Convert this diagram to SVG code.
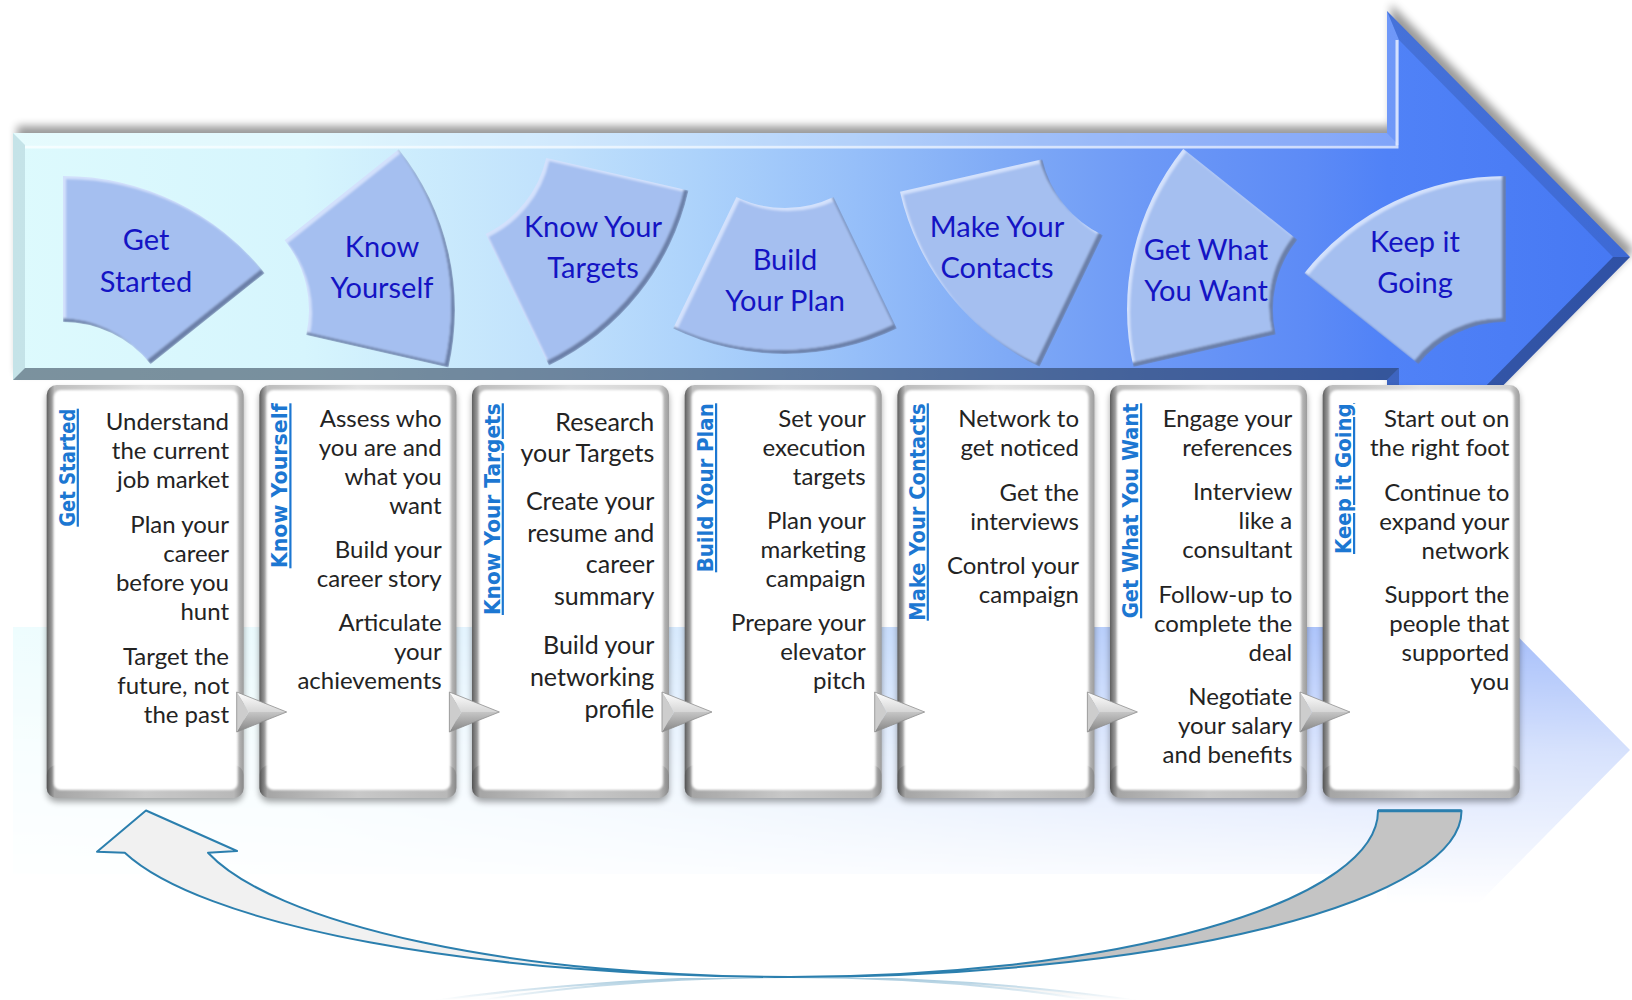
<svg xmlns="http://www.w3.org/2000/svg" xmlns:xlink="http://www.w3.org/1999/xlink" width="1632" height="1000" viewBox="0 0 1632 1000">
<style>
.segt{font-family:Lato,"Liberation Sans",sans-serif;font-size:29px;fill:#1414c4;text-anchor:middle}
.bt{font-family:Lato,"Liberation Sans",sans-serif;font-size:24px;fill:#232323;text-anchor:end}
.bt3{font-size:25px}
.hdr{font-family:"DejaVu Sans","Liberation Sans",sans-serif;font-weight:700;font-size:22px;fill:#1c77d2;text-decoration:underline}
.frame{fill:url(#frameGrad)}
.inner{fill:#fff;filter:url(#soft)}
.cshadow{fill:#000;opacity:.35;filter:url(#blur3)}
.dark{fill:#6b7fa8}
.light{fill:#d3e1fc}
.main{fill:#a5bff0}
.curve{stroke:#2b7fae;stroke-width:2;stroke-linejoin:round}
</style>
<defs>
<linearGradient id="bodyGrad" gradientUnits="userSpaceOnUse" x1="13" y1="0" x2="1630" y2="0">
<stop offset="0" stop-color="#ddfafd"/>
<stop offset=".18" stop-color="#d6f5fd"/>
<stop offset=".34" stop-color="#bfe0fc"/>
<stop offset=".425" stop-color="#acd2fb"/>
<stop offset=".52" stop-color="#96bff9"/>
<stop offset=".61" stop-color="#80abf6"/>
<stop offset=".7" stop-color="#6d99f6"/>
<stop offset=".8" stop-color="#5d8bf6"/>
<stop offset=".85" stop-color="#5082f7"/>
<stop offset="1" stop-color="#4678f3"/>
</linearGradient>
<linearGradient id="frameGrad" x1="0" y1="0" x2="1" y2="0">
<stop offset="0" stop-color="#5e5e5e"/>
<stop offset=".04" stop-color="#bdbdbd"/>
<stop offset=".5" stop-color="#e4e4e4"/>
<stop offset=".95" stop-color="#d2d2d2"/>
<stop offset="1" stop-color="#9c9c9c"/>
</linearGradient>
<linearGradient id="triTop" x1="0" y1="0" x2="0" y2="1">
<stop offset="0" stop-color="#ffffff"/>
<stop offset="1" stop-color="#d6d6d6"/>
</linearGradient>
<linearGradient id="triBot" x1="0" y1="0" x2="0" y2="1">
<stop offset="0" stop-color="#c6c6c6"/>
<stop offset="1" stop-color="#858585"/>
</linearGradient>
<linearGradient id="reflFade" x1="0" y1="0" x2="0" y2="1">
<stop offset="0" stop-color="#fff" stop-opacity=".65"/>
<stop offset=".31" stop-color="#fff" stop-opacity=".5"/>
<stop offset=".62" stop-color="#fff" stop-opacity=".22"/>
<stop offset="1" stop-color="#fff" stop-opacity="0"/>
</linearGradient>
<linearGradient id="curveFade" x1="0" y1="0" x2="0" y2="1">
<stop offset="0" stop-color="#fff" stop-opacity=".7"/>
<stop offset="1" stop-color="#fff" stop-opacity="0"/>
</linearGradient>
<mask id="reflMask" maskUnits="userSpaceOnUse" x="0" y="0" width="1632" height="1000">
<rect x="0" y="504" width="1632" height="400" fill="url(#reflFade)"/>
</mask>
<mask id="curveMask" maskUnits="userSpaceOnUse" x="0" y="0" width="1632" height="1000">
<rect x="0" y="978" width="1632" height="22" fill="url(#curveFade)"/>
</mask>
<filter id="blur4" x="-10%" y="-20%" width="120%" height="140%"><feGaussianBlur stdDeviation="4"/></filter>
<filter id="blur3" x="-10%" y="-10%" width="120%" height="120%"><feGaussianBlur stdDeviation="3"/></filter>
<filter id="soft" x="-5%" y="-5%" width="110%" height="110%"><feGaussianBlur stdDeviation="1.2"/></filter>
<polygon id="arrowShape" points="13,133 1387,133 1387,11 1630,257 1387,503 1387,380 13,380"/>
<path id="s1" d="M63,176 A258,258 0 0 1 264.71,273.14 L150.56,364.17 A112,112 0 0 0 63,322 Z"/>
<path id="s2" d="M398.71,149.14 A258,258 0 0 1 448.53,367.41 L306.19,334.92 A112,112 0 0 0 284.56,240.17 Z"/>
<path id="s3" d="M688.53,190.41 A258,258 0 0 1 548.94,365.45 L485.59,233.91 A112,112 0 0 0 546.19,157.92 Z"/>
<path id="s4" d="M896.94,328.45 A258,258 0 0 1 673.06,328.45 L736.41,196.91 A112,112 0 0 0 833.59,196.91 Z"/>
<path id="s5" d="M1039.56,366.85 A258,258 0 0 1 899.97,191.81 L1042.31,159.32 A112,112 0 0 0 1102.91,235.31 Z"/>
<path id="s6" d="M1133.47,366.91 A258,258 0 0 1 1183.29,148.64 L1297.44,239.67 A112,112 0 0 0 1275.81,334.42 Z"/>
<path id="s7" d="M1304.29,273.14 A258,258 0 0 1 1506,176 L1506,322 A112,112 0 0 0 1418.44,364.17 Z"/>
<clipPath id="c1"><use href="#s1"/></clipPath><clipPath id="c1b"><use href="#s1" transform="translate(3,3)"/></clipPath>
<clipPath id="c2"><use href="#s2"/></clipPath><clipPath id="c2b"><use href="#s2" transform="translate(3,3)"/></clipPath>
<clipPath id="c3"><use href="#s3"/></clipPath><clipPath id="c3b"><use href="#s3" transform="translate(3,3)"/></clipPath>
<clipPath id="c4"><use href="#s4"/></clipPath><clipPath id="c4b"><use href="#s4" transform="translate(3,3)"/></clipPath>
<clipPath id="c5"><use href="#s5"/></clipPath><clipPath id="c5b"><use href="#s5" transform="translate(3,3)"/></clipPath>
<clipPath id="c6"><use href="#s6"/></clipPath><clipPath id="c6b"><use href="#s6" transform="translate(3,3)"/></clipPath>
<clipPath id="c7"><use href="#s7"/></clipPath><clipPath id="c7b"><use href="#s7" transform="translate(3,3)"/></clipPath>
<g id="tri">
<polygon points="0,-20 50,0 12,0" fill="url(#triTop)"/>
<polygon points="0,20 50,0 12,0" fill="url(#triBot)"/>
<polygon points="0,-20 12,0 0,20" fill="#cdcdcd"/>
<polygon points="0,-20 50,0 0,20" fill="none" stroke="#8f8f8f" stroke-width=".8"/>
</g>
<g id="card">
<rect class="cshadow" x="0" y="4" width="197" height="413" rx="10"/>
<rect class="frame" x="0" y="0" width="197" height="413" rx="10"/>
<rect x="0" y="380" width="197" height="33" rx="10" fill="#000" opacity=".12"/>
<rect class="inner" x="7" y="5" width="184" height="400" rx="7"/>
</g>
</defs>

<rect width="1632" height="1000" fill="#fff"/>

<!-- reflection of the big arrow -->
<g id="reflection" mask="url(#reflMask)">
<g transform="matrix(1 0 0 -1 0 1007)"><use href="#arrowShape" fill="url(#bodyGrad)"/></g>
</g>

<!-- big process arrow -->
<g id="process-arrow">
<use href="#arrowShape" transform="translate(4,-7)" fill="#000" opacity=".4" filter="url(#blur4)"/>
<use href="#arrowShape" fill="url(#bodyGrad)"/>
<polygon points="13,133 1387,133 1399,145 25,145" fill="#fff" opacity=".28"/>
<polygon points="1387,133 1387,11 1399,40 1399,145" fill="#fff" opacity=".18"/>
<polygon points="1387,11 1630,257 1613,257 1399,40" fill="#000" opacity=".12"/>
<polygon points="1630,257 1387,503 1399,474 1613,257" fill="#000" opacity=".32"/>
<polygon points="1387,503 1387,380 1399,368 1399,474" fill="#000" opacity=".22"/>
<polygon points="1387,380 13,380 25,368 1399,368" fill="#1a2a40" opacity=".5"/>
<polygon points="13,380 13,133 25,145 25,368" fill="#2a5060" opacity=".13"/>
<polyline points="25,147 1397,147 1397,40" fill="none" stroke="#fff" stroke-opacity=".7" stroke-width="3"/>
</g>

<!-- segment nodes -->
<g id="node-get-started">
<g clip-path="url(#c1)" filter="url(#soft)"><use href="#s1" class="dark"/><use href="#s1" class="light" transform="translate(-4,-4)"/><g clip-path="url(#c1b)"><use href="#s1" class="main" transform="translate(-4,-4)"/></g></g>
<text class="segt"><tspan x="146" y="250">Get</tspan><tspan x="146" y="292">Started</tspan></text>
</g>
<g id="node-know-yourself">
<g clip-path="url(#c2)" filter="url(#soft)"><use href="#s2" class="dark"/><use href="#s2" class="light" transform="translate(-4,-4)"/><g clip-path="url(#c2b)"><use href="#s2" class="main" transform="translate(-4,-4)"/></g></g>
<text class="segt"><tspan x="382" y="257">Know</tspan><tspan x="382" y="298">Yourself</tspan></text>
</g>
<g id="node-know-your-targets">
<g clip-path="url(#c3)" filter="url(#soft)"><use href="#s3" class="dark"/><use href="#s3" class="light" transform="translate(-4,-4)"/><g clip-path="url(#c3b)"><use href="#s3" class="main" transform="translate(-4,-4)"/></g></g>
<text class="segt"><tspan x="593" y="237">Know Your</tspan><tspan x="593" y="278">Targets</tspan></text>
</g>
<g id="node-build-your-plan">
<g clip-path="url(#c4)" filter="url(#soft)"><use href="#s4" class="dark"/><use href="#s4" class="light" transform="translate(-4,-4)"/><g clip-path="url(#c4b)"><use href="#s4" class="main" transform="translate(-4,-4)"/></g></g>
<text class="segt"><tspan x="785" y="270">Build</tspan><tspan x="785" y="311">Your Plan</tspan></text>
</g>
<g id="node-make-your-contacts">
<g clip-path="url(#c5)" filter="url(#soft)"><use href="#s5" class="dark"/><use href="#s5" class="light" transform="translate(-4,-4)"/><g clip-path="url(#c5b)"><use href="#s5" class="main" transform="translate(-4,-4)"/></g></g>
<text class="segt"><tspan x="997" y="237">Make Your</tspan><tspan x="997" y="278">Contacts</tspan></text>
</g>
<g id="node-get-what-you-want">
<g clip-path="url(#c6)" filter="url(#soft)"><use href="#s6" class="dark"/><use href="#s6" class="light" transform="translate(-4,-4)"/><g clip-path="url(#c6b)"><use href="#s6" class="main" transform="translate(-4,-4)"/></g></g>
<text class="segt"><tspan x="1206" y="260">Get What</tspan><tspan x="1206" y="301">You Want</tspan></text>
</g>
<g id="node-keep-it-going">
<g clip-path="url(#c7)" filter="url(#soft)"><use href="#s7" class="dark"/><use href="#s7" class="light" transform="translate(-4,-4)"/><g clip-path="url(#c7b)"><use href="#s7" class="main" transform="translate(-4,-4)"/></g></g>
<text class="segt"><tspan x="1415" y="252">Keep it</tspan><tspan x="1415" y="293">Going</tspan></text>
</g>

<!-- cards -->
<g id="card-get-started">
<use href="#card" x="46.7" y="385"/>
<text class="hdr" transform="translate(74.7,526.7) rotate(-90)" textLength="118" lengthAdjust="spacingAndGlyphs">Get Started</text>
<text class="bt"><tspan x="229" y="430">Understand</tspan><tspan x="229" y="459">the current</tspan><tspan x="229" y="488">job market</tspan><tspan x="229" y="533">Plan your</tspan><tspan x="229" y="562">career</tspan><tspan x="229" y="591">before you</tspan><tspan x="229" y="620">hunt</tspan><tspan x="229" y="665">Target the</tspan><tspan x="229" y="694">future, not</tspan><tspan x="229" y="723">the past</tspan></text>
</g>
<g id="card-know-yourself">
<use href="#card" x="259.4" y="385"/>
<text class="hdr" transform="translate(287.3,568.3) rotate(-90)" textLength="165" lengthAdjust="spacingAndGlyphs">Know Yourself</text>
<text class="bt"><tspan x="441.7" y="427">Assess who</tspan><tspan x="441.7" y="456">you are and</tspan><tspan x="441.7" y="485">what you</tspan><tspan x="441.7" y="514">want</tspan><tspan x="441.7" y="558">Build your</tspan><tspan x="441.7" y="587">career story</tspan><tspan x="441.7" y="631">Articulate</tspan><tspan x="441.7" y="660">your</tspan><tspan x="441.7" y="689">achievements</tspan></text>
</g>
<g id="card-know-your-targets">
<use href="#card" x="472" y="385"/>
<text class="hdr" transform="translate(499.7,615) rotate(-90)" textLength="211.7" lengthAdjust="spacingAndGlyphs">Know Your Targets</text>
<text class="bt bt3"><tspan x="654.3" y="430.5">Research</tspan><tspan x="654.3" y="462">your Targets</tspan><tspan x="654.3" y="510">Create your</tspan><tspan x="654.3" y="541.5">resume and</tspan><tspan x="654.3" y="573">career</tspan><tspan x="654.3" y="604.5">summary</tspan><tspan x="654.3" y="654">Build your</tspan><tspan x="654.3" y="686">networking</tspan><tspan x="654.3" y="718">profile</tspan></text>
</g>
<g id="card-build-your-plan">
<use href="#card" x="684.7" y="385"/>
<text class="hdr" transform="translate(713,572.3) rotate(-90)" textLength="169" lengthAdjust="spacingAndGlyphs">Build Your Plan</text>
<text class="bt"><tspan x="865.7" y="427">Set your</tspan><tspan x="865.7" y="456">execution</tspan><tspan x="865.7" y="485">targets</tspan><tspan x="865.7" y="529">Plan your</tspan><tspan x="865.7" y="558">marketing</tspan><tspan x="865.7" y="587">campaign</tspan><tspan x="865.7" y="631">Prepare your</tspan><tspan x="865.7" y="660">elevator</tspan><tspan x="865.7" y="689">pitch</tspan></text>
</g>
<g id="card-make-your-contacts">
<use href="#card" x="897.4" y="385"/>
<text class="hdr" transform="translate(924.7,620.7) rotate(-90)" textLength="217.4" lengthAdjust="spacingAndGlyphs">Make Your Contacts</text>
<text class="bt"><tspan x="1079" y="427">Network to</tspan><tspan x="1079" y="456">get noticed</tspan><tspan x="1079" y="500.5">Get the</tspan><tspan x="1079" y="529.5">interviews</tspan><tspan x="1079" y="573.5">Control your</tspan><tspan x="1079" y="602.5">campaign</tspan></text>
</g>
<g id="card-get-what-you-want">
<use href="#card" x="1110" y="385"/>
<text class="hdr" transform="translate(1138,618.3) rotate(-90)" textLength="215" lengthAdjust="spacingAndGlyphs">Get What You Want</text>
<text class="bt"><tspan x="1292.3" y="427">Engage your</tspan><tspan x="1292.3" y="456">references</tspan><tspan x="1292.3" y="500">Interview</tspan><tspan x="1292.3" y="529">like a</tspan><tspan x="1292.3" y="558">consultant</tspan><tspan x="1292.3" y="603">Follow-up to</tspan><tspan x="1292.3" y="632">complete the</tspan><tspan x="1292.3" y="661">deal</tspan><tspan x="1292.3" y="705">Negotiate</tspan><tspan x="1292.3" y="734">your salary</tspan><tspan x="1292.3" y="763">and benefits</tspan></text>
</g>
<g id="card-keep-it-going">
<use href="#card" x="1322.7" y="385"/>
<text class="hdr" transform="translate(1351,554) rotate(-90)" textLength="150.7" lengthAdjust="spacingAndGlyphs">Keep it Going</text>
<text class="bt"><tspan x="1509.3" y="427">Start out on</tspan><tspan x="1509.3" y="456">the right foot</tspan><tspan x="1509.3" y="500.5">Continue to</tspan><tspan x="1509.3" y="529.5">expand your</tspan><tspan x="1509.3" y="558.5">network</tspan><tspan x="1509.3" y="603">Support the</tspan><tspan x="1509.3" y="632">people that</tspan><tspan x="1509.3" y="661">supported</tspan><tspan x="1509.3" y="690">you</tspan></text>
</g>

<!-- connectors -->
<g id="connectors">
<use href="#tri" x="236.7" y="712"/>
<use href="#tri" x="449.4" y="712"/>
<use href="#tri" x="662" y="712"/>
<use href="#tri" x="874.7" y="712"/>
<use href="#tri" x="1087.4" y="712"/>
<use href="#tri" x="1300" y="712"/>
<g id="loop-arrow">
<path class="curve" fill="#c4c4c4" d="M1378,810.7 L1461.5,810.7 A671,166 0 0 1 790,977 A588,166 0 0 0 1378,810.7 Z"/>
<path class="curve" fill="#f1f1f1" d="M790,977 A687,166 0 0 1 124.8,852.7 L97,851.7 L146,810.5 L237,851 L208,852.7 A601,166 0 0 0 790,977 Z"/>
<line x1="1378" y1="810.7" x2="1461.5" y2="810.7" stroke="#2b7fae" stroke-width="3"/>
</g>
<g mask="url(#curveMask)" opacity=".6">
<g transform="matrix(1 0 0 -1 0 1954)">
<path class="curve" fill="#c4c4c4" d="M1378,810.7 L1461.5,810.7 A671,166 0 0 1 790,977 A588,166 0 0 0 1378,810.7 Z"/>
<path class="curve" fill="#f1f1f1" d="M790,977 A687,166 0 0 1 124.8,852.7 L97,851.7 L146,810.5 L237,851 L208,852.7 A601,166 0 0 0 790,977 Z"/>
</g>
</g>
</g>
</svg>
